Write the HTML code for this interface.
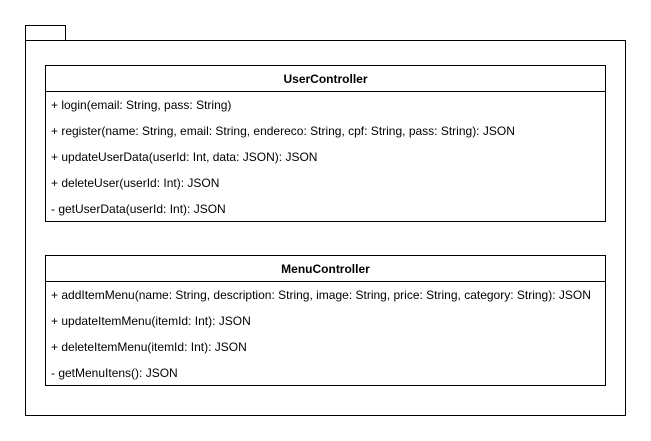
<!DOCTYPE html>
<html><head><style>
body{margin:0;width:651px;height:441px;background:#fff;position:relative;font-family:"Liberation Sans",Arial,sans-serif;font-size:12px;color:#000;overflow:hidden}
.b{position:absolute;border:1px solid #000;box-sizing:border-box}
.t{position:absolute;white-space:nowrap;line-height:14px}
.h{font-weight:bold;text-align:center}
.l{position:absolute;height:1px;background:#000}
</style></head><body>
<div class="b" style="left:25px;top:25px;width:41px;height:16px"></div>
<div class="b" style="left:25px;top:40px;width:601px;height:376px"></div>

<div class="b" style="left:45px;top:65px;width:561px;height:157px"></div>
<div class="l" style="left:45px;top:91px;width:561px"></div>
<div class="t h" style="left:45px;top:72px;width:561px">UserController</div>
<div class="t" style="left:51px;top:98px">+ login(email: String, pass: String)</div>
<div class="t" style="left:51px;top:124px">+ register(name: String, email: String, endereco: String, cpf: String, pass: String): JSON</div>
<div class="t" style="left:51px;top:150px">+ updateUserData(userId: Int, data: JSON): JSON</div>
<div class="t" style="left:51px;top:176px">+ deleteUser(userId: Int): JSON</div>
<div class="t" style="left:51px;top:202px">- getUserData(userId: Int): JSON</div>

<div class="b" style="left:45px;top:255px;width:561px;height:131px"></div>
<div class="l" style="left:45px;top:281px;width:561px"></div>
<div class="t h" style="left:45px;top:262px;width:561px">MenuController</div>
<div class="t" style="left:51px;top:288px">+ addItemMenu(name: String, description: String, image: String, price: String, category: String): JSON</div>
<div class="t" style="left:51px;top:314px">+ updateItemMenu(itemId: Int): JSON</div>
<div class="t" style="left:51px;top:340px">+ deleteItemMenu(itemId: Int): JSON</div>
<div class="t" style="left:51px;top:366px">- getMenuItens(): JSON</div>
</body></html>
